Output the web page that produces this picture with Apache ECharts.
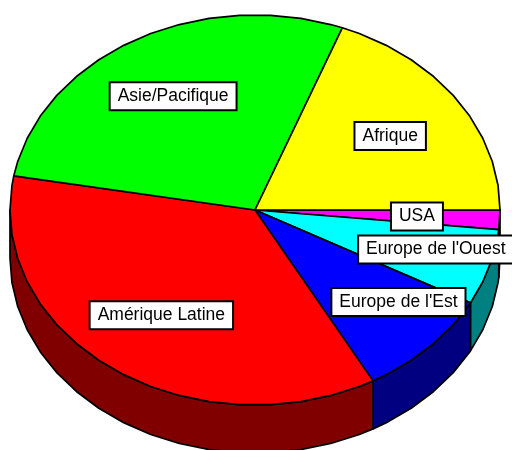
<!DOCTYPE html>
<html>
<head>
<meta charset="utf-8">
<style>
  html, body { margin: 0; padding: 0; background: #fff; }
  #chart { width: 512px; height: 450px; }
</style>
<script src="https://cdn.jsdelivr.net/npm/echarts@6/dist/echarts.min.js"></script>
</head>
<body>
<div id="chart"></div>
<script>
// clockwise from 3 o'clock
const categories = ["USA", "Europe de l'Ouest", "Europe de l'Est", "Amérique Latine", "Asie/Pacifique", "Afrique"];
const values = [1.6, 6.3, 9.1, 35.8, 28.0, 19.2];
const topColors = ["#ff00ff", "#00ffff", "#0000ff", "#ff0000", "#00ff00", "#ffff00"];
const sideColors = ["#800080", "#008080", "#000080", "#800000", "#008000", "#808000"];

const cx = 255, cy = 210, rx = 245, ry = 195, depth = 48;
const labelRadius = 0.67;
const step = 360 / 50; // the outline is a rough polyline, like the original
// the crowded labels are pushed aside
const labelShift = {
  "USA": [-2, 0],
  "Europe de l'Ouest": [24, 1],
  "Europe de l'Est": [27, 0],
  "Amérique Latine": [2, -1],
  "Asie/Pacifique": [-1, 0],
};

const total = values.reduce((a, b) => a + b, 0);

function rim(deg, drop) {
  const r = deg * Math.PI / 180;
  return [cx + rx * Math.cos(r), cy + ry * Math.sin(r) + (drop || 0)];
}

// angles from a0 to a1, with vertices on the fixed step grid
function arcAngles(a0, a1) {
  const out = [a0];
  for (let k = Math.floor(a0 / step) + 1; k * step < a1; k++) {
    out.push(k * step);
  }
  out.push(a1);
  return out;
}

function renderSlice(params, api) {
  const i = params.dataIndex;
  let sum = 0;
  for (let k = 0; k < i; k++) sum += values[k];
  const a0 = sum / total * 360;
  const a1 = (sum + api.value(0)) / total * 360;
  const children = [];

  // side wall, only the front half shows
  if (a0 < 180) {
    const end = Math.min(a1, 180);
    const angles = arcAngles(a0, end);
    const upper = angles.map((a) => rim(a));
    const lower = angles.map((a) => rim(a, depth)).reverse();
    children.push({
      type: "polygon",
      shape: { points: upper.concat(lower) },
      style: { fill: sideColors[i], stroke: "#000", lineWidth: 1.7, lineJoin: "round" },
      z2: 1,
    });
  }

  const pts = [[cx, cy]].concat(arcAngles(a0, a1).map((a) => rim(a)));
  children.push({
    type: "polygon",
    shape: { points: pts },
    style: { fill: topColors[i], stroke: "#000", lineWidth: 1.7, lineJoin: "round" },
    z2: 2,
  });

  const mid = (a0 + a1) / 2 * Math.PI / 180;
  const shift = labelShift[categories[i]] || [0, 0];
  children.push({
    type: "text",
    x: cx + rx * labelRadius * Math.cos(mid) + shift[0],
    y: cy + ry * labelRadius * Math.sin(mid) + shift[1],
    style: {
      text: categories[i],
      fontFamily: "Liberation Sans",
      fontSize: 17.5,
      fill: "#000",
      align: "center",
      verticalAlign: "middle",
      backgroundColor: "#fff",
      borderColor: "#000",
      borderWidth: 2,
      padding: [4, 7, 4, 7],
    },
    z2: 10 + i,
  });

  return { type: "group", children: children };
}

const chart = echarts.init(document.getElementById("chart"));
chart.setOption({
  animation: false,
  series: [
    {
      type: "custom",
      coordinateSystem: "none",
      renderItem: renderSlice,
      data: values.map((v) => [v]),
      clip: false,
    },
  ],
});
</script>
</body>
</html>
